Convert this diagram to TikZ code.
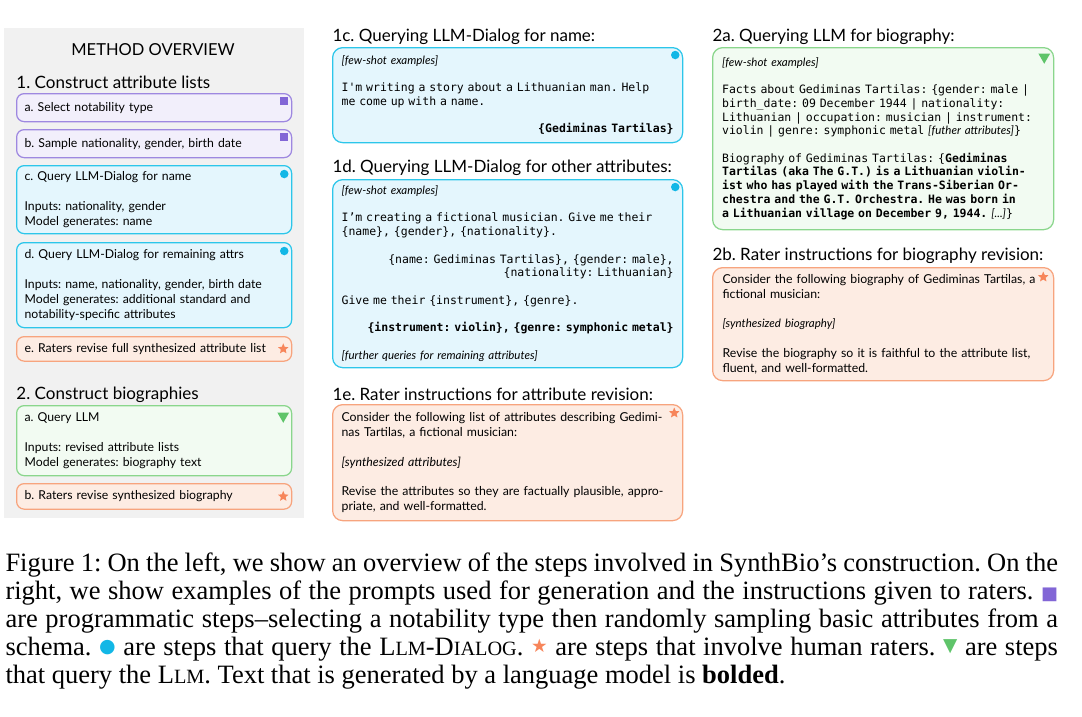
\documentclass[tikz,border=0pt]{standalone}
\usepackage{fontspec}
\setmainfont{Liberation Serif}
\setsansfont{Lato}
\setmonofont{DejaVu Sans Mono}
\newfontfamily\symfont{DejaVu Sans}
\usetikzlibrary{positioning,calc,shapes.geometric}
\frenchspacing

\definecolor{purpline}{HTML}{9E88E0}
\definecolor{purpfill}{HTML}{F2EFFB}
\definecolor{purpmark}{HTML}{8266D6}
\definecolor{cyanline}{HTML}{2CC6EA}
\definecolor{cyanfill}{HTML}{E4F6FD}
\definecolor{cyanmark}{HTML}{12B7E6}
\definecolor{orgline}{HTML}{F7A47E}
\definecolor{orgfill}{HTML}{FDECE3}
\definecolor{orgmark}{HTML}{F7855A}
\definecolor{grnline}{HTML}{8AD68C}
\definecolor{grnfill}{HTML}{F2FBF2}
\definecolor{grnmark}{HTML}{5FC46A}
\definecolor{panelgray}{HTML}{F1F1F1}

\newcommand\fewshot{\sffamily\itshape\fontsize{4.6}{5.6}\selectfont}
\newcommand\fakesc[1]{{\fontsize{8.1}{11.2}\selectfont #1}}
\newcommand\capmark[4]{\raisebox{#4}{\symfont\fontsize{#1}{11.2}\selectfont\textcolor{#2}{#3}}}

\tikzset{
  stepbox/.style={draw, rounded corners=3pt, line width=0.5pt, anchor=north west, align=left, inner xsep=3.2pt, inner ysep=0pt, text width=103.6pt, font=\sffamily\fontsize{4.9}{6}\selectfont},
  progbox/.style={stepbox, draw=purpline, fill=purpfill},
  dialbox/.style={stepbox, draw=cyanline, fill=cyanfill},
  ratebox/.style={stepbox, draw=orgline, fill=orgfill},
  llmbox/.style={stepbox, draw=grnline, fill=grnfill},
  promptbox/.style={draw, rounded corners=4pt, line width=0.5pt, anchor=north west, align=left, inner xsep=3.6pt, inner ysep=0pt, font=\ttfamily\fontsize{4.6}{5.5}\selectfont},
  notebox/.style={promptbox, font=\sffamily\fontsize{4.92}{5.9}\selectfont},
  sechead/.style={anchor=west, inner sep=0pt, font=\sffamily\fontsize{6.8}{8}\selectfont},
  sqmark/.style={fill=purpmark, minimum size=3.3pt, inner sep=0pt},
  dotmark/.style={circle, fill=cyanmark, minimum size=3.4pt, inner sep=0pt},
  starmark/.style={star, star points=5, star point ratio=2.2, fill=orgmark, minimum size=4.4pt, inner sep=0pt},
  trimark/.style={regular polygon, regular polygon sides=3, shape border rotate=180, fill=grnmark, minimum size=5.4pt, inner sep=0pt}
}

\begin{document}
\begin{tikzpicture}[x=0.4pt, y=-0.4pt]
\useasboundingbox (0,0) rectangle (1082,716);

% left: method overview
\node[fill=panelgray, anchor=north west, minimum width=120pt, minimum height=196pt, inner sep=0pt] (panel) at (3,27) {};
\node[font=\sffamily\fontsize{6.6}{8}\selectfont, inner sep=0pt] (overview) at (153,50) {METHOD OVERVIEW};
\node[sechead] (head1) at (16,82) {1. Construct attribute lists};
\node[progbox, minimum height=11.2pt] (a) at (16,93) {a. Select notability type};
\node[progbox, minimum height=11.2pt] (b) at (16,129) {b. Sample nationality, gender, birth date};
\node[dialbox, minimum height=27.2pt] (c) at (16,165) {c. Query LLM-Dialog for name\\[6pt]
  Inputs: nationality, gender\\Model generates: name};
\node[dialbox, minimum height=34pt] (d) at (16,242) {d. Query LLM-Dialog for remaining attrs\\[6pt]
  Inputs: name, nationality, gender, birth date\\Model generates: additional standard and\\notability-specific attributes};
\node[ratebox, minimum height=9.8pt] (e) at (16,336) {e. Raters revise full synthesized attribute list};
\node[sechead] (head2) at (16,395) {2. Construct biographies};
\node[llmbox, minimum height=28pt] (qa) at (16,405) {a. Query LLM\\[6pt]
  Inputs: revised attribute lists\\Model generates: biography text};
\node[ratebox, minimum height=10.2pt] (qb) at (16,483) {b. Raters revise synthesized biography};

\node[sqmark] (amark) at ($(a.north east)+(-8,8)$) {};
\node[sqmark] (bmark) at ($(b.north east)+(-8,8)$) {};
\node[dotmark] (cmark) at ($(c.north east)+(-8,9)$) {};
\node[dotmark] (dmark) at ($(d.north east)+(-8,9)$) {};
\node[starmark] (emark) at ($(e.east)+(-9,0)$) {};
\node[trimark] (qamark) at ($(qa.north east)+(-9,11)$) {};
\node[starmark] (qbmark) at ($(qb.east)+(-9,0)$) {};

% middle: prompts for attributes
\node[sechead] (t1c) at (332,37) {1c. Querying LLM-Dialog for name:};
\node[promptbox, draw=cyanline, fill=cyanfill, text width=132.8pt, minimum height=38pt] (p1c) at (332,47) {%
  {\fewshot [few-shot examples]}\\[5.5pt]
  I'm writing a story about a Lithuanian man. Help\\
  me come up with a name.\\[5.5pt]
  \hspace*{\fill}\textbf{\{Gediminas Tartilas\}}};
\node[sechead] (t1d) at (332,168) {1d. Querying LLM-Dialog for other attributes:};
\node[promptbox, draw=cyanline, fill=cyanfill, text width=132.8pt, minimum height=75.2pt] (p1d) at (332,179) {%
  {\fewshot [few-shot examples]}\\[5.5pt]
  I’m creating a fictional musician. Give me their\\
  \{name\}, \{gender\}, \{nationality\}.\\[5.5pt]
  \hspace*{\fill}\{name: Gediminas Tartilas\}, \{gender: male\},\\
  \hspace*{\fill}\{nationality: Lithuanian\}\\[5.5pt]
  Give me their \{instrument\}, \{genre\}.\\[5.5pt]
  \hspace*{\fill}\textbf{\{instrument: violin\}, \{genre: symphonic metal\}}\\[5.5pt]
  {\fewshot [further queries for remaining attributes]}};
\node[sechead] (t1e) at (332,394) {1e. Rater instructions for attribute revision:};
\node[notebox, draw=orgline, fill=orgfill, text width=132.8pt, minimum height=46.4pt] (p1e) at (332,404) {%
  Consider the following list of attributes describing Gedimi-\\
  nas Tartilas, a fictional musician:\\[5.9pt]
  \textit{[synthesized attributes]}\\[5.9pt]
  Revise the attributes so they are factually plausible, appro-\\
  priate, and well-formatted.};

\node[dotmark] (p1cmark) at ($(p1c.north east)+(-8,8)$) {};
\node[dotmark] (p1dmark) at ($(p1d.north east)+(-8,8)$) {};
\node[starmark] (p1emark) at ($(p1e.north east)+(-9,9)$) {};

% right: prompts for biographies
\node[sechead] (t2a) at (712,37) {2a. Querying LLM for biography:};
\node[promptbox, draw=grnline, fill=grnfill, inner xsep=3.8pt, text width=128.8pt, minimum height=72.8pt] (p2a) at (712,47) {%
  {\fewshot [few-shot examples]}\\[5.4pt]
  Facts about Gediminas Tartilas: \{gender: male |\\
  birth\_date: 09 December 1944 | nationality:\\
  Lithuanian | occupation: musician | instrument:\\
  violin | genre: symphonic metal {\fewshot [futher attributes]}\}\\[5.4pt]
  Biography of Gediminas Tartilas: \{\textbf{Gediminas}\\
  \textbf{Tartilas (aka The G.T.) is a Lithuanian violin-}\\
  \textbf{ist who has played with the Trans-Siberian Or-}\\
  \textbf{chestra and the G.T. Orchestra. He was born in}\\
  \textbf{a Lithuanian village on December 9, 1944.} {\fewshot [...]}\}};
\node[sechead] (t2b) at (712,256) {2b. Rater instructions for biography revision:};
\node[notebox, draw=orgline, fill=orgfill, inner xsep=4pt, text width=128.4pt, minimum height=45.2pt] (p2b) at (712,267) {%
  Consider the following biography of Gediminas Tartilas, a\\
  fictional musician:\\[5.9pt]
  {\fewshot [synthesized biography]}\\[5.9pt]
  Revise the biography so it is faithful to the attribute list,\\
  fluent, and well-formatted.};

\node[trimark] (p2amark) at ($(p2a.north east)+(-10,10)$) {};
\node[starmark] (p2bmark) at ($(p2b.north east)+(-11,10)$) {};

% caption
\node[anchor=north west, inner sep=0pt, text width=421pt, align=justify, font=\fontsize{10.6}{11.2}\selectfont] (caption) at (5,552) {%
  Figure 1: On the left, we show an overview of the steps involved in SynthBio’s construction. On the\linebreak
  right, we show examples of the prompts used for generation and the instructions given to raters. \capmark{7.2}{purpmark}{■}{0pt}\linebreak
  are programmatic steps--selecting a notability type then randomly sampling basic attributes from a\linebreak
  schema. \capmark{7.6}{cyanmark}{●}{1pt} are steps that query the L\fakesc{LM}-D\fakesc{IALOG}. \capmark{7.4}{orgmark}{★}{1.2pt} are steps that involve human raters. \capmark{7.4}{grnmark}{▼}{1.5pt} are steps\linebreak
  that query the L\fakesc{LM}. Text that is generated by a language model is \textbf{bolded}.};
\end{tikzpicture}
\end{document}
